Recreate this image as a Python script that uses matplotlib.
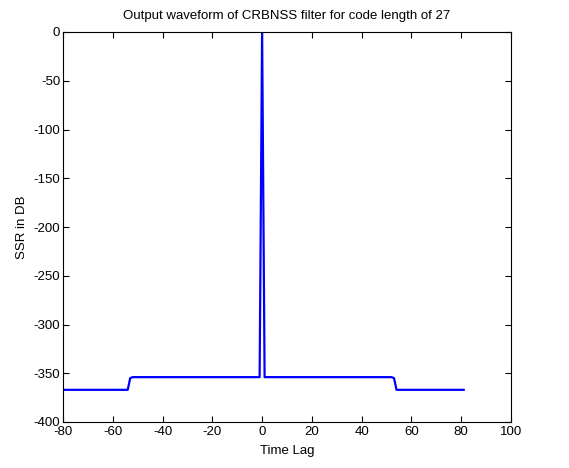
import matplotlib
matplotlib.use("Agg")
import matplotlib.pyplot as plt

# Key points of the output waveform (lag, SSR in dB)
lags = [-81, -54, -53, -52, -1, 0, 1, 52, 53, 54, 81]
ssr_db = [-367, -367, -355, -354, -354, 0, -354, -354, -355, -367, -367]

x_ticks = [-80, -60, -40, -20, 0, 20, 40, 60, 80, 100]
y_ticks = [-400, -350, -300, -250, -200, -150, -100, -50, 0]

plt.rcParams['font.family'] = ['Liberation Sans', 'DejaVu Sans']
fs = 9.5

fig = plt.figure(figsize=(5.69, 4.68), dpi=100)
ax = fig.add_axes([63/569, 1-422/468, 448/569, 390/468])
ax.plot(lags, ssr_db, color=(0, 0, 1), linewidth=1.6)
ax.set_xlim(-80, 100)
ax.set_ylim(-400, 0)
ax.set_xticks(x_ticks)
ax.set_yticks(y_ticks)
ax.set_xticklabels([str(v) for v in x_ticks], fontsize=fs)
ax.set_yticklabels([str(v) for v in y_ticks], fontsize=fs)
ax.tick_params(direction='in', length=4.5, width=0.8, top=True, right=True, pad=2)
ax.tick_params(axis='x', pad=3)
for s in ax.spines.values():
    s.set_linewidth(0.8)
ax.set_title("Output waveform of CRBNSS filter for code length of 27", fontsize=fs, pad=9)
ax.set_xlabel("Time Lag", fontsize=fs, labelpad=5)
ax.set_ylabel("SSR in DB", fontsize=fs, labelpad=4)
fig.savefig("out.png", dpi=100)
